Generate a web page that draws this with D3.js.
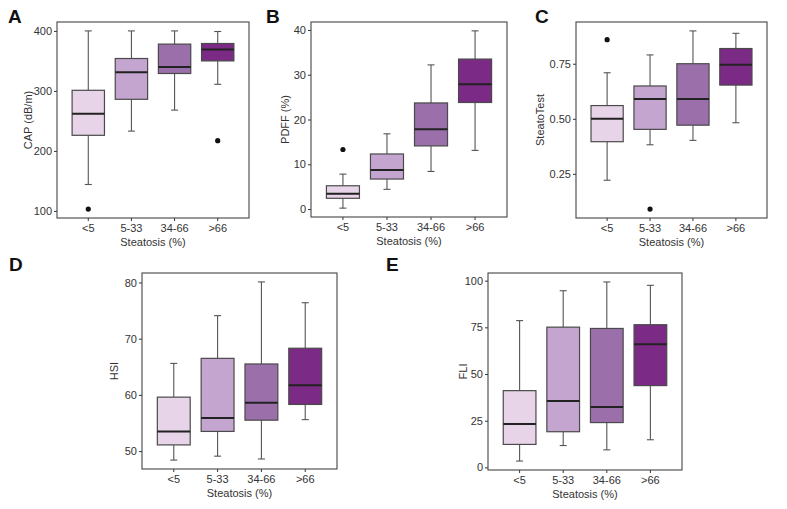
<!DOCTYPE html>
<html><head><meta charset="utf-8">
<script src="https://cdn.jsdelivr.net/npm/d3@7"></script>
<style>body{margin:0;background:#fff}svg{display:block}text{font-family:"Liberation Sans",Arial,sans-serif}</style>
</head><body><svg id="c" width="787" height="509"></svg>
<script>
const categories = ["<5","5-33","34-66",">66"];
const colors = ["#e8d4e8","#c4a5d0","#9a6faa","#7b2a85"];
const xTitle = "Steatosis (%)";
// box stats: [lowWhisker, q1, median, q3, highWhisker]
const capStats = [[144,226,262,301,400],[233,286,331,354,400],[268,329,340,378,400],[311,350,369,379,399]];
const capOut = [[103],[],[],[217]];
const capTicks = [100,200,300,400];
const pdffStats = [[0.2,2.4,3.4,5.2,7.8],[4.4,6.7,8.7,12.3,16.8],[8.4,14.1,17.8,23.7,32.2],[13.1,23.8,27.9,33.5,39.8]];
const pdffOut = [[13.3],[],[],[]];
const pdffTicks = [0,10,20,30,40];
const stStats = [[0.221,0.396,0.50,0.56,0.709],[0.382,0.452,0.59,0.649,0.79],[0.402,0.471,0.59,0.75,0.899],[0.482,0.653,0.745,0.819,0.888]];
const stOut = [[0.859],[0.09],[],[]];
const stTicks = [0.25,0.50,0.75];
const hsiStats = [[48.4,51.1,53.5,59.6,65.6],[49.1,53.5,55.9,66.5,74.1],[48.6,55.5,58.6,65.5,80.1],[55.6,58.3,61.7,68.3,76.4]];
const hsiOut = [[],[],[],[]];
const hsiTicks = [50,60,70,80];
const fliStats = [[3.4,12.3,23.2,41.1,78.6],[11.7,19.1,35.5,75.1,94.6],[9.4,24.0,32.4,74.4,99.3],[14.8,43.8,65.9,76.4,97.5]];
const fliOut = [[],[],[],[]];
const fliTicks = [0,25,50,75,100];

const svg = d3.select("#c");

function panel(o){
  const g = svg.append("g");
  const all = o.stats.flat().concat(o.out.flat());
  const mn = d3.min(all), mx = d3.max(all), r = mx - mn;
  const y = d3.scaleLinear().domain([mn-0.05*r, mx+0.05*r]).range([o.y1, o.y0]);
  const x = d3.scaleBand().domain(categories).range([o.x0, o.x1]).paddingOuter(0.35).paddingInner(0.25);
  // y axis
  const ya = g.append("g").attr("transform",`translate(${o.x0},0)`)
    .call(d3.axisLeft(y).tickValues(o.ticks).tickSize(3).tickPadding(2).tickFormat(o.fmt||d3.format("d")));
  ya.select(".domain").remove();
  ya.selectAll("line").attr("stroke","#333");
  ya.selectAll("text").attr("font-size",11).attr("fill","#333");
  const xa = g.append("g").attr("transform",`translate(0,${o.y1})`)
    .call(d3.axisBottom(x).tickSize(3).tickPadding(3));
  xa.select(".domain").remove();
  xa.selectAll("line").attr("stroke","#333");
  xa.selectAll("text").attr("font-size",11).attr("fill","#333");
  const bw = x.bandwidth();
  categories.forEach((c,i)=>{
    const s = o.stats[i], cx = x(c)+bw/2;
    const wg = g.append("g").attr("stroke","#555").attr("stroke-width",1.1);
    wg.append("line").attr("x1",cx).attr("x2",cx).attr("y1",y(s[0])).attr("y2",y(s[1]));
    wg.append("line").attr("x1",cx).attr("x2",cx).attr("y1",y(s[3])).attr("y2",y(s[4]));
    wg.append("line").attr("x1",cx-3.5).attr("x2",cx+3.5).attr("y1",y(s[0])).attr("y2",y(s[0]));
    wg.append("line").attr("x1",cx-3.5).attr("x2",cx+3.5).attr("y1",y(s[4])).attr("y2",y(s[4]));
    g.append("rect").attr("x",x(c)).attr("width",bw).attr("y",y(s[3])).attr("height",y(s[1])-y(s[3]))
      .attr("fill",colors[i]).attr("stroke","#4a4a4a").attr("stroke-width",1.2);
    g.append("line").attr("x1",x(c)).attr("x2",x(c)+bw).attr("y1",y(s[2])).attr("y2",y(s[2]))
      .attr("stroke","#222").attr("stroke-width",2);
    o.out[i].forEach(v=>g.append("circle").attr("cx",cx).attr("cy",y(v)).attr("r",2.6).attr("fill","#111"));
  });
  g.append("rect").attr("x",o.x0).attr("y",o.y0).attr("width",o.x1-o.x0).attr("height",o.y1-o.y0)
    .attr("fill","none").attr("stroke","#444").attr("stroke-width",1.1);
  g.append("text").attr("x",(o.x0+o.x1)/2).attr("y",o.y1+28).attr("text-anchor","middle")
    .attr("font-size",11).attr("fill","#333").text(xTitle);
  g.append("text").attr("transform",`translate(${o.ytx},${(o.y0+o.y1)/2}) rotate(-90)`)
    .attr("text-anchor","middle").attr("font-size",11).attr("fill","#333").text(o.ytitle);
  g.append("text").attr("x",o.lx).attr("y",o.ly).attr("font-size",19).attr("font-weight","bold")
    .attr("fill","#111").text(o.letter);
}

panel({letter:"A",lx:8,ly:23,x0:57,x1:249,y0:22,y1:218,stats:capStats,out:capOut,ticks:capTicks,ytitle:"CAP (dB/m)",ytx:32});
panel({letter:"B",lx:266,ly:23,x0:311,x1:507,y0:22,y1:217,stats:pdffStats,out:pdffOut,ticks:pdffTicks,ytitle:"PDFF (%)",ytx:289});
panel({letter:"C",lx:535,ly:23,x0:576,x1:767,y0:22,y1:218,stats:stStats,out:stOut,ticks:stTicks,ytitle:"SteatoTest",ytx:544,fmt:d3.format(".2f")});
panel({letter:"D",lx:9,ly:271,x0:142,x1:337,y0:273,y1:469,stats:hsiStats,out:hsiOut,ticks:hsiTicks,ytitle:"HSI",ytx:118});
panel({letter:"E",lx:386,ly:271,x0:488,x1:682,y0:273,y1:470,stats:fliStats,out:fliOut,ticks:fliTicks,ytitle:"FLI",ytx:467});
</script></body></html>
